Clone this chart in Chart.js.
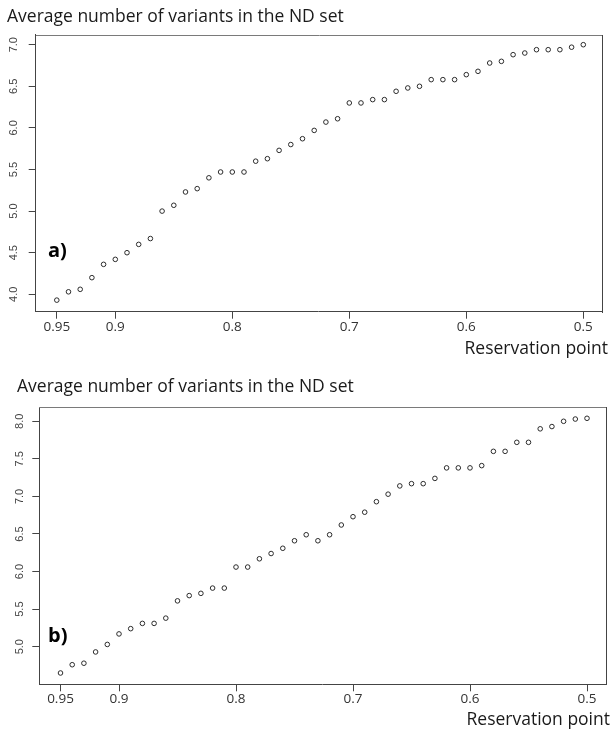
<!DOCTYPE html>
<html>
<head>
<meta charset="utf-8">
<title>Average number of variants in the ND set</title>
<script src="https://cdn.jsdelivr.net/npm/chart.js@4.4.1/dist/chart.umd.min.js"></script>
<style>
  body { margin: 0; background: #fff; }
  .panel { position: absolute; left: 0; width: 614px; }
</style>
</head>
<body>
<div class="panel" style="top:0;height:364px"><canvas id="chartA" width="614" height="364"></canvas></div>
<div class="panel" style="top:364px;height:365px"><canvas id="chartB" width="614" height="365"></canvas></div>
<script>
// reservation point for each dot (x)
const reservationPoints = [
    0.95, 0.94, 0.93, 0.92, 0.91, 0.90, 0.89, 0.88, 0.87, 0.86,
    0.85, 0.84, 0.83, 0.82, 0.81, 0.80, 0.79, 0.78, 0.77, 0.76,
    0.75, 0.74, 0.73, 0.72, 0.71, 0.70, 0.69, 0.68, 0.67, 0.66,
    0.65, 0.64, 0.63, 0.62, 0.61, 0.60, 0.59, 0.58, 0.57, 0.56,
    0.55, 0.54, 0.53, 0.52, 0.51, 0.50
];

// panel a)
const variantsA = [
    3.93, 4.03, 4.06, 4.20, 4.36, 4.42, 4.50, 4.60, 4.67, 5.00,
    5.07, 5.23, 5.27, 5.40, 5.47, 5.47, 5.47, 5.60, 5.63, 5.73,
    5.80, 5.87, 5.97, 6.07, 6.11, 6.30, 6.30, 6.34, 6.34, 6.44,
    6.48, 6.50, 6.58, 6.58, 6.58, 6.64, 6.68, 6.78, 6.80, 6.88,
    6.90, 6.94, 6.94, 6.94, 6.97, 7.00
];

// panel b)
const variantsB = [
    4.65, 4.76, 4.78, 4.93, 5.03, 5.17, 5.24, 5.31, 5.31, 5.38,
    5.61, 5.68, 5.71, 5.78, 5.78, 6.06, 6.06, 6.17, 6.24, 6.31,
    6.41, 6.49, 6.41, 6.49, 6.62, 6.73, 6.79, 6.93, 7.03, 7.14,
    7.17, 7.17, 7.24, 7.38, 7.38, 7.38, 7.41, 7.60, 7.60, 7.72,
    7.72, 7.90, 7.93, 8.00, 8.03, 8.04
];

const xTickValues = [0.95, 0.9, 0.8, 0.7, 0.6, 0.5];
const xTickLabels = ['0.95', '0.9', '0.8', '0.7', '0.6', '0.5'];
const yTicksA = [4.0, 4.5, 5.0, 5.5, 6.0, 6.5, 7.0];
const yTicksB = [5.0, 5.5, 6.0, 6.5, 7.0, 7.5, 8.0];

const titleText = 'Average number of variants in the ND set';
const xAxisTitle = 'Reservation point';

// frame + texts that sit outside the axes
const panelText = {
    id: 'panelText',
    afterDraw(chart, args, opts) {
        const ctx = chart.ctx;
        const a = chart.chartArea;
        ctx.save();

        ctx.lineWidth = 1;
        ctx.strokeStyle = '#7a7a7a';
        ctx.beginPath();
        ctx.moveTo(Math.round(a.left), Math.round(a.top) + 0.5);
        ctx.lineTo(Math.round(a.right) + 1, Math.round(a.top) + 0.5);
        ctx.stroke();
        ctx.strokeStyle = '#444';
        ctx.beginPath();
        ctx.moveTo(Math.round(a.right) + 0.5, Math.round(a.top));
        ctx.lineTo(Math.round(a.right) + 0.5, Math.round(a.bottom) + 1);
        ctx.stroke();

        ctx.fillStyle = '#1a1a1a';
        ctx.textBaseline = 'middle';
        ctx.font = '17.5px "Open Sans"';
        ctx.textAlign = 'left';
        ctx.fillText(titleText, opts.titleX, opts.titleY);

        ctx.textAlign = 'right';
        ctx.fillText(xAxisTitle, opts.xTitleRight, opts.xTitleY);

        ctx.fillStyle = '#000';
        ctx.textAlign = 'left';
        ctx.font = 'bold 20px "Open Sans"';
        ctx.fillText(opts.tag, opts.tagX, opts.tagY);

        ctx.restore();
    }
};

function makeChart(id, values, yTicks, cfg) {
    const ctx = document.getElementById(id).getContext('2d');
    return new Chart(ctx, {
        type: 'scatter',
        data: {
            datasets: [{
                data: reservationPoints.map((x, i) => ({ x: x, y: values[i] })),
                pointStyle: 'circle',
                pointRadius: 2.3,
                pointBorderWidth: 1,
                pointBorderColor: '#2b2b2b',
                pointBackgroundColor: 'rgba(0,0,0,0)',
                showLine: false,
            }],
        },
        options: {
            responsive: false,
            animation: false,
            events: [],
            layout: { padding: cfg.padding },
            plugins: {
                legend: { display: false },
                tooltip: { enabled: false },
                panelText: cfg.texts,
            },
            scales: {
                x: {
                    type: 'linear',
                    reverse: true,
                    min: cfg.xMin,
                    max: cfg.xMax,
                    afterBuildTicks: (s) => { s.ticks = xTickValues.map(v => ({ value: v })); },
                    afterFit: (s) => { s.height = cfg.xHeight; },
                    ticks: {
                        callback: (v) => xTickLabels[xTickValues.indexOf(v)],
                        autoSkip: false,
                        maxRotation: 0,
                        padding: 0,
                        color: '#333',
                        font: { family: 'Open Sans', size: 13.5 },
                    },
                    grid: { drawOnChartArea: false, tickLength: 7, color: '#444' },
                    border: { color: '#444' },
                },
                y: {
                    type: 'linear',
                    min: cfg.yMin,
                    max: cfg.yMax,
                    afterBuildTicks: (s) => { s.ticks = yTicks.map(v => ({ value: v })); },
                    afterFit: (s) => { s.width = cfg.yWidth; },
                    ticks: {
                        callback: (v) => v.toFixed(1),
                        minRotation: 90,
                        maxRotation: 90,
                        crossAlign: 'center',
                        padding: cfg.yPad,
                        color: '#444',
                        font: { family: 'Liberation Sans', size: 11 },
                    },
                    grid: { drawOnChartArea: false, tickLength: 7, color: '#444' },
                    border: { color: '#444' },
                },
            },
        },
        plugins: [panelText],
    });
}

function init() {
    makeChart('chartA', variantsA, yTicksA, {
        padding: { top: 34.7, right: 12.3, left: 0, bottom: 0 },
        xMin: 0.48427, xMax: 0.96803,
        yMin: 3.7909, yMax: 7.1202,
        yWidth: 35.7, xHeight: 52.3, yPad: 6.9,
        texts: { titleX: 7, titleY: 17, xTitleRight: 608, xTitleY: 349, tag: 'a)', tagX: 48, tagY: 251 },
    });
    makeChart('chartB', variantsB, yTicksB, {
        padding: { top: 43.3, right: 8.3, left: 0, bottom: 0 },
        xMin: 0.48402, xMax: 0.96812,
        yMin: 4.4994, yMax: 8.1863,
        yWidth: 39.3, xHeight: 44.7, yPad: 5,
        texts: { titleX: 17, titleY: 22.7, xTitleRight: 610, xTitleY: 356, tag: 'b)', tagX: 48, tagY: 272 },
    });
}

window.onload = init;
</script>
</body>
</html>
